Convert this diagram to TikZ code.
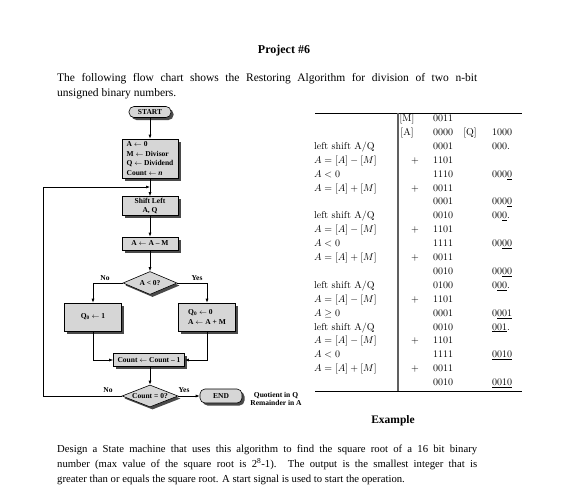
\documentclass[tikz,border=0pt]{standalone}
\usepackage{fontspec}
\newfontfamily\tnr{Liberation Serif}
\usetikzlibrary{arrows.meta,shapes.geometric,shadows}
\definecolor{boxgray}{HTML}{D6D6D6}
\definecolor{shadowgray}{HTML}{4A4A4A}
\newcommand{\flowfont}{\tnr\bfseries\fontsize{7.5}{9.5}\selectfont}
\newcommand{\tabfont}{\fontsize{10}{12}\selectfont}
\newcommand{\trow}[7]{%
  \node[tcell, anchor=base west] (r#1a) at (314,{121.5+13.9*#1}) {#2};
  \node[tcell, anchor=base] (r#1b) at (407,{121.5+13.9*#1}) {#3};
  \node[tcell, anchor=base] (r#1c) at (415,{121.5+13.9*#1}) {#4};
  \node[tcell, anchor=base west] (r#1d) at (433,{121.5+13.9*#1}) {#5};
  \node[tcell, anchor=base] (r#1e) at (470,{121.5+13.9*#1}) {#6};
  \node[tcell, anchor=base west] (r#1f) at (492,{121.5+13.9*#1}) {#7};
}
\begin{document}
\begin{tikzpicture}[x=1pt,y=-1pt,
  fbox/.style={rectangle, draw=black, line width=0.6pt, fill=boxgray, inner sep=1.5pt, font=\flowfont,
    drop shadow={shadow xshift=2.5pt, shadow yshift=-2.5pt, fill=shadowgray, opacity=1}},
  term/.style={fbox, rounded corners=5pt},
  dia/.style={fbox, diamond, inner sep=0pt, aspect=2.35},
  arr/.style={-{Latex[length=4pt,width=3pt]}, line width=0.6pt},
  lbl/.style={font=\flowfont, inner sep=0pt},
  tcell/.style={font=\tabfont, inner sep=0pt},
  bodytext/.style={anchor=north west, inner sep=0pt, align=left, font=\tnr\fontsize{11.5}{15}\selectfont}
]
\useasboundingbox (0,0) rectangle (565,493);
\fill[white] (0,0) rectangle (565,493);

% ---------- texts ----------
\node[font=\tnr\bfseries\fontsize{12}{14}\selectfont, inner sep=0pt] (title) at (284,51) {Project \#6};
\node[bodytext] (intro) at (57,73) {\makebox[420pt][s]{The following flow chart shows the Restoring Algorithm for division of two n-bit}\\unsigned binary numbers.};
\node[font=\tnr\bfseries\fontsize{11.5}{14}\selectfont, inner sep=0pt] (example) at (393,421) {Example};
\node[bodytext, font=\tnr\fontsize{10.7}{15}\selectfont] (task) at (57,444.5) {\makebox[420pt][s]{Design a State machine that uses this algorithm to find the square root of a 16 bit binary}\\\makebox[420pt][s]{number (max value of the square root is 2\textsuperscript{8}-1). The output is the smallest integer that is}\\greater than or equals the square root. A start signal is used to start the operation.};

% ---------- flow chart ----------
\node[term, minimum width=42pt, minimum height=11pt] (start) at (150,112) {START};
\node[fbox, minimum width=56pt, minimum height=39pt, align=left] (init) at (150,158.5) {A $\leftarrow$ 0\\M $\leftarrow$ Divisor\\Q $\leftarrow$ Dividend\\Count $\leftarrow$ \textit{n}};
\node[fbox, minimum width=56pt, minimum height=18pt, align=center] (shift) at (150,206) {Shift Left\\A, Q};
\node[fbox, minimum width=56pt, minimum height=13pt] (sub) at (150,243.5) {A $\leftarrow$ A – M};
\node[dia, minimum width=54pt, minimum height=23pt] (d1) at (150,283) {A < 0?};
\node[fbox, minimum width=57pt, minimum height=28pt] (q1) at (93,317) {Q\textsubscript{0} $\leftarrow$ 1};
\node[fbox, minimum width=57pt, minimum height=28pt, align=left] (q0) at (207,317) {Q\textsubscript{0} $\leftarrow$ 0\\A $\leftarrow$ A + M};
\node[fbox, minimum width=71pt, minimum height=13pt] (cnt) at (149,360) {Count $\leftarrow$ Count – 1};
\node[dia, minimum width=56pt, minimum height=22pt] (d2) at (150,396) {};
\node[lbl] (d2t) at (d2.center) {Count = 0?};
\node[term, minimum width=42pt, minimum height=14pt] (end) at (221,396) {END};
\node[lbl, align=center, font=\tnr\bfseries\fontsize{7.5}{8.5}\selectfont] (note) at (276,399) {Quotient in Q\\Remainder in A};

\coordinate (merge) at (150,187);
\coordinate (lp1) at (43,396);
\coordinate (lp2) at (43,187);

\draw[arr] (start) -- (init);
\draw[arr] (init) -- (shift);
\draw[arr] (shift) -- (sub);
\draw[arr] (sub) -- (d1);
\draw[arr] (d1.west) -| (q1.north);
\draw[arr] (d1.east) -| (q0.north);
\draw[arr] (q1.south) |- (cnt.west);
\draw[arr] (q0.south) |- (cnt.east);
\draw[arr] (cnt.south -| d2.north) -- (d2.north);
\draw[arr] (d2.east) -- (end.west);
\draw[arr] (d2.west) -- (lp1) -- (lp2) -- (merge);

\node[lbl] (no1) at (105,278) {No};
\node[lbl] (yes1) at (197,278) {Yes};
\node[lbl] (no2) at (108,390.5) {No};
\node[lbl] (yes2) at (184,390.5) {Yes};

% ---------- table ----------
\draw[line width=0.7pt] (315,113) -- (522,113);
\draw[line width=0.9pt] (315,391) -- (522,391);
\draw[line width=1.8pt, gray!75!black] (398,113) -- (398,391);

\trow{0}{}{[M]}{}{0011}{}{}
\trow{1}{}{[A]}{}{0000}{[Q]}{1000}
\trow{2}{left shift A/Q}{}{}{0001}{}{000.}
\trow{3}{$A=[A]-[M]$}{}{$+$}{1101}{}{}
\trow{4}{$A<0$}{}{}{1110}{}{000\underline{0}}
\trow{5}{$A=[A]+[M]$}{}{$+$}{0011}{}{}
\trow{6}{}{}{}{0001}{}{000\underline{0}}
\trow{7}{left shift A/Q}{}{}{0010}{}{00\underline{0}.}
\trow{8}{$A=[A]-[M]$}{}{$+$}{1101}{}{}
\trow{9}{$A<0$}{}{}{1111}{}{00\underline{00}}
\trow{10}{$A=[A]+[M]$}{}{$+$}{0011}{}{}
\trow{11}{}{}{}{0010}{}{00\underline{00}}
\trow{12}{left shift A/Q}{}{}{0100}{}{0\underline{00}.}
\trow{13}{$A=[A]-[M]$}{}{$+$}{1101}{}{}
\trow{14}{$A\geq 0$}{}{}{0001}{}{0\underline{001}}
\trow{15}{left shift A/Q}{}{}{0010}{}{\underline{001}.}
\trow{16}{$A=[A]-[M]$}{}{$+$}{1101}{}{}
\trow{17}{$A<0$}{}{}{1111}{}{\underline{0010}}
\trow{18}{$A=[A]+[M]$}{}{$+$}{0011}{}{}
\trow{19}{}{}{}{0010}{}{\underline{0010}}
\end{tikzpicture}
\end{document}
